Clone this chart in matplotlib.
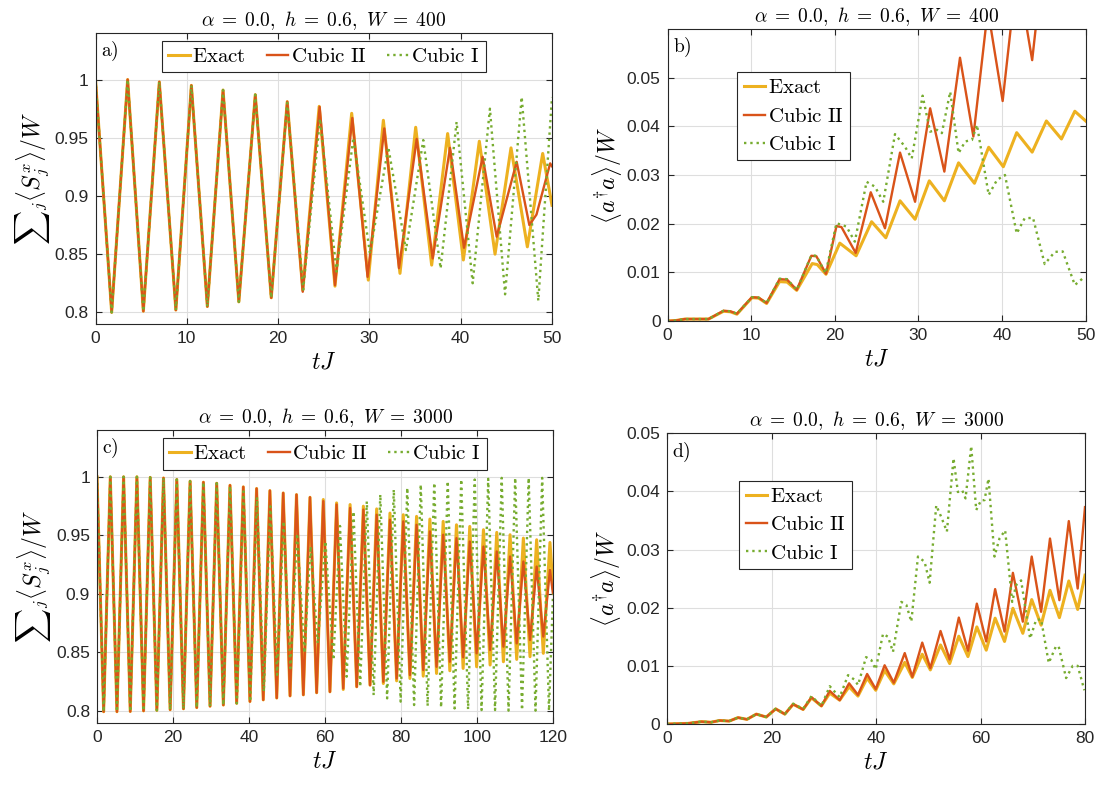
import numpy as np
import matplotlib
matplotlib.use("Agg")
import matplotlib.pyplot as plt

# ---- panel a: W = 400, sum_j <S_j^x>/W (extrema) ----
A_EXACT_T = [0, 1.77, 3.52, 5.24, 6.99, 8.8, 10.5, 12.25, 13.97, 15.7, 17.5, 19.25, 21.0, 22.7,
             24.5, 26.23, 28.06, 29.88, 31.53, 33.35, 35.07, 36.82, 38.57, 40.29, 42.04, 43.76,
             45.51, 47.3, 48.98, 50.0]
A_EXACT_Y = [1.0, 0.800, 1.0, 0.801, 0.998, 0.802, 0.995, 0.805, 0.991, 0.809, 0.987, 0.8125, 0.981, 0.819,
             0.977, 0.8225, 0.971, 0.8277, 0.965, 0.8335, 0.959, 0.8406, 0.9536, 0.845, 0.947, 0.850,
             0.9413, 0.8563, 0.9365, 0.892]
A_CUB2_T = [0, 1.77, 3.52, 5.24, 6.99, 8.8, 10.5, 12.25, 13.97, 15.7, 17.5, 19.25, 21.0, 22.7,
            24.55, 26.23, 28.13, 29.8, 31.63, 33.24, 35.18, 36.93, 38.83, 40.36, 42.4, 43.94,
            46.13, 47.52, 48.3, 49.8, 50.0]
A_CUB2_Y = [1.0, 0.800, 1.0, 0.801, 0.998, 0.802, 0.995, 0.805, 0.991, 0.809, 0.987, 0.8125, 0.981, 0.8177,
            0.9765, 0.8234, 0.967, 0.8305, 0.958, 0.838, 0.949, 0.8463, 0.9413, 0.8555, 0.9336, 0.865,
            0.9293, 0.875, 0.884, 0.928, 0.9255]
A_CUB1_T = [0, 1.77, 3.52, 5.24, 6.99, 8.8, 10.5, 12.25, 13.97, 15.7, 17.5, 19.25, 21.0, 22.75,
            24.59, 26.4, 28.24, 30.06, 32.07, 34.0, 35.9, 37.8, 39.55, 41.31, 43.2, 44.86, 46.68,
            48.5, 50.0]
A_CUB1_Y = [1.0, 0.800, 1.0, 0.801, 0.998, 0.802, 0.995, 0.805, 0.991, 0.809, 0.987, 0.8125, 0.980, 0.8195,
            0.9665, 0.835, 0.950, 0.8506, 0.942, 0.8535, 0.948, 0.8378, 0.9636, 0.825, 0.975, 0.8155, 0.985,
            0.810, 0.985]

# ---- panel b: W = 400, <a^dag a>/W ----
B_EXACT_T = [0, 1.0, 2.1, 4.9, 6.7, 7.5, 8.3, 10.1, 10.9, 11.85, 13.4, 14.3, 15.45, 17.3, 17.9, 18.95,
             20.6, 22.55, 24.4, 26.1, 27.8, 29.6, 31.3, 33.1, 34.8, 36.7, 38.4, 40.15, 41.75, 43.6,
             45.3, 47.1, 48.7, 50.0]
B_EXACT_Y = [0, 0.0001, 0.0004, 0.0004, 0.0020, 0.0019, 0.0014, 0.0048, 0.0047, 0.0036, 0.0081, 0.0080,
             0.0063, 0.0118, 0.0116, 0.0096, 0.0160, 0.0134, 0.0204, 0.0171, 0.0247, 0.0209, 0.0288,
             0.0247, 0.0325, 0.0283, 0.0357, 0.0317, 0.0387, 0.0347, 0.0411, 0.0374, 0.0431, 0.0411]
B_CUB2_T = [0, 1.0, 2.1, 4.9, 6.7, 7.5, 8.3, 10.1, 10.9, 11.85, 13.4, 14.3, 15.45, 17.2, 17.8, 18.95,
            20.2, 20.8, 22.5, 24.3, 26.0, 27.8, 29.6, 31.4, 33.1, 34.97, 36.57, 38.3, 40.07, 41.8,
            43.6, 45.3, 47.1, 48.8, 50.0]
B_CUB2_Y = [0, 0.0001, 0.0004, 0.0004, 0.0021, 0.0020, 0.0015, 0.0049, 0.0048, 0.0037, 0.0086, 0.0085,
            0.0064, 0.0134, 0.0133, 0.0097, 0.0195, 0.0193, 0.0140, 0.02645, 0.01905, 0.0346, 0.0245,
            0.0437, 0.0307, 0.0541, 0.0379, 0.064, 0.0452, 0.072, 0.0536, 0.080, 0.064, 0.088, 0.078]
B_CUB1_T = [0, 1.0, 2.1, 4.9, 6.7, 7.5, 8.3, 10.1, 10.9, 11.85, 13.4, 14.3, 15.45, 17.2, 17.8, 18.9,
            20.2, 21.4, 22.4, 23.8, 24.8, 25.8, 27.2, 28.4, 29.2, 30.5, 31.4, 32.2, 32.8, 33.8, 34.8,
            35.6, 36.4, 37.0, 38.4, 39.4, 40.35, 41.75, 42.7, 43.7, 45.1, 46.3, 47.25, 48.7, 49.9]
B_CUB1_Y = [0, 0.0001, 0.0004, 0.0004, 0.0021, 0.0020, 0.0015, 0.0049, 0.0048, 0.0037, 0.0087, 0.0086,
            0.0064, 0.0135, 0.0134, 0.0098, 0.0201, 0.0194, 0.0163, 0.0286, 0.0276, 0.0245, 0.0384,
            0.0358, 0.0334, 0.0463, 0.0389, 0.0393, 0.0386, 0.0471, 0.0345, 0.0369, 0.0372, 0.0403,
            0.0259, 0.0290, 0.0300, 0.0180, 0.0211, 0.0212, 0.0117, 0.0142, 0.0143, 0.0074, 0.0091]

# ---- panel c: W = 3000, sum_j <S_j^x>/W (peaks and troughs) ----
C_PEAK_T = [0, 3.5, 7.0, 10.5, 14.0, 17.5, 21.0, 24.5, 28.0, 31.5, 35.0, 38.5, 42.0, 45.5, 49.0, 52.5,
            56.05, 59.55, 63.05, 66.6, 70.1, 73.6, 77.1, 80.6, 84.1, 87.6, 91.1, 94.6, 98.1, 101.7,
            105.2, 108.7, 112.2, 115.7, 119.2]
C_TROUGH_T = [1.75, 5.25, 8.75, 12.25, 15.75, 19.25, 22.75, 26.25, 29.75, 33.25, 36.75, 40.25, 43.75,
              47.3, 50.8, 54.3, 57.8, 61.3, 64.8, 68.35, 71.85, 75.35, 78.85, 82.35, 85.85, 89.35,
              92.85, 96.35, 99.9, 103.45, 106.95, 110.45, 113.95, 117.45]
C_EXACT_PEAK = [1.0, 1.0, 1.0, 1.0, 0.9995, 0.999, 0.9977, 0.9963, 0.9954, 0.9945, 0.9928, 0.9914, 0.99,
                0.9882, 0.9862, 0.9848, 0.9825, 0.9806, 0.9777, 0.9763, 0.9749, 0.9726, 0.969, 0.9676,
                0.9662, 0.9639, 0.9619, 0.959, 0.9576, 0.9548, 0.9525, 0.9505, 0.9476, 0.9462, 0.9439]
C_EXACT_TROUGH = [0.7993, 0.7993, 0.7995, 0.80, 0.8005, 0.801, 0.8018, 0.8028, 0.804, 0.805, 0.8065,
                  0.808, 0.8094, 0.811, 0.8128, 0.8137, 0.8155, 0.8163, 0.8183, 0.8206, 0.822, 0.8234,
                  0.8257, 0.8277, 0.8297, 0.832, 0.8343, 0.8363, 0.8377, 0.8392, 0.842, 0.844, 0.8463,
                  0.8492]
C_CUB2_PEAK = [1.0, 1.0, 1.0, 1.0, 0.9995, 0.999, 0.9977, 0.9963, 0.9954, 0.9945, 0.9928, 0.9914, 0.99,
               0.9882, 0.9862, 0.9848, 0.9825, 0.9792, 0.9763, 0.9734, 0.972, 0.9676, 0.9633, 0.9619,
               0.959, 0.9533, 0.9505, 0.9476, 0.9447, 0.9404, 0.9362, 0.9319, 0.9276, 0.9233, 0.9204]
C_CUB2_TROUGH = [0.7993, 0.7993, 0.7995, 0.80, 0.8005, 0.801, 0.8018, 0.8028, 0.804, 0.805, 0.8065,
                 0.808, 0.8094, 0.811, 0.8128, 0.8137, 0.8155, 0.8163, 0.8192, 0.8206, 0.822, 0.8249,
                 0.8277, 0.8306, 0.8349, 0.8377, 0.842, 0.8458, 0.8492, 0.852, 0.8549, 0.8577, 0.8606,
                 0.8635]
C_END_T = 120.0
C_EXACT_END = 0.905
C_CUB2_END = 0.90
C_CUB1_PEAK_T = [0, 3.5, 7.0, 10.5, 14.0, 17.5, 21.0, 24.5, 28.0, 31.5, 35.0, 38.55, 42.1, 45.6, 49.1,
                 52.65, 56.2, 60.1, 63.95, 67.5, 71.0, 74.55, 78.1, 81.65, 85.2, 88.75, 92.3, 95.85,
                 99.4, 102.95, 106.5, 110.05, 113.6, 117.15]
C_CUB1_PEAK = [1.0, 1.0, 1.0, 1.0, 0.9995, 0.999, 0.9977, 0.9963, 0.9954, 0.9945, 0.992, 0.9876, 0.9825,
               0.9748, 0.962, 0.9515, 0.9406, 0.9449, 0.958, 0.9704, 0.979, 0.9849, 0.9891, 0.9906,
               0.9934, 0.9949, 0.9963, 0.9977, 0.9977, 0.9983, 0.9991, 0.9991, 0.9991, 0.9991]
C_CUB1_TROUGH_T = [1.75, 5.25, 8.75, 12.25, 15.75, 19.25, 22.75, 26.25, 29.75, 33.25, 36.8, 40.3, 43.9,
                   47.4, 50.9, 54.6, 58.1, 62.2, 65.7, 69.25, 72.8, 76.35, 79.9, 83.45, 87.0, 90.55,
                   94.1, 97.65, 101.2, 104.75, 108.3, 111.85, 115.4, 118.95]
C_CUB1_TROUGH = [0.7993, 0.7993, 0.7995, 0.80, 0.8005, 0.801, 0.8018, 0.8028, 0.804, 0.805, 0.8065,
                 0.808, 0.8165, 0.8308, 0.8365, 0.8494, 0.8579, 0.8435, 0.8292, 0.8206, 0.8135, 0.8107,
                 0.8079, 0.805, 0.8042, 0.803, 0.8021, 0.8013, 0.8007, 0.8007, 0.8002, 0.8007, 0.8002,
                 0.8002]
C_CUB1_END = 0.90

# ---- panel d: W = 3000, <a^dag a>/W ----
D_T = [0, 4.0, 6.6, 8.4, 10.1, 11.9, 13.6, 15.3, 17.1, 19.0, 20.8, 22.55, 24.15, 26.05, 27.65, 29.55,
       31.15, 33.05, 34.85, 36.55, 38.3, 39.95, 41.65, 43.4, 45.5, 46.95, 48.85, 50.4, 52.35, 54.1,
       55.85, 57.6, 59.3, 61.1, 62.8, 64.6, 66.2, 68.1, 69.8, 71.6, 73.3, 75.1, 76.9, 78.6, 80.0]
D_EXACT_Y = [0, 0.0001, 0.0004, 0.0003, 0.0006, 0.0005, 0.0011, 0.0008, 0.0017, 0.0012, 0.0026, 0.0017,
             0.0034, 0.0025, 0.0045, 0.0031, 0.0053, 0.0041, 0.0064, 0.0048, 0.0079, 0.0058, 0.0092,
             0.0069, 0.0106, 0.0080, 0.0120, 0.0093, 0.0136, 0.0104, 0.0151, 0.0116, 0.0167, 0.0127,
             0.0182, 0.0142, 0.0199, 0.0156, 0.0214, 0.0170, 0.0230, 0.0183, 0.0246, 0.0197, 0.0256]
D_CUB2_Y = [0, 0.0001, 0.0004, 0.0003, 0.0006, 0.0005, 0.0011, 0.0008, 0.0017, 0.0012, 0.0026, 0.0017,
            0.0034, 0.0025, 0.0046, 0.0031, 0.0057, 0.0041, 0.0070, 0.0050, 0.0086, 0.0060, 0.0101,
            0.0071, 0.0122, 0.0081, 0.0140, 0.0096, 0.0160, 0.0111, 0.0183, 0.0126, 0.0207, 0.0142,
            0.0232, 0.0159, 0.0260, 0.0176, 0.0288, 0.0193, 0.0319, 0.0213, 0.0349, 0.0233, 0.0373]
D_CUB1_T = [0, 4.0, 6.6, 8.4, 10.1, 11.9, 13.6, 15.3, 17.1, 19.0, 20.8, 22.55, 24.15, 26.05, 27.65,
            29.55, 31.15, 33.05, 34.65, 35.9, 36.56, 38.1, 39.1, 39.94, 41.34, 42.3, 43.25, 44.84, 45.8,
            46.76, 48.03, 49.3, 50.26, 51.53, 52.49, 53.57, 54.84, 55.67, 56.5, 57.14, 58.22, 59.18,
            60.13, 60.77, 61.53, 62.68, 63.63, 64.72, 66.06, 66.82, 67.77, 69.5, 70.64, 71.6, 73.06,
            74.46, 74.97, 76.38, 77.65, 78.6, 79.88]
D_CUB1_Y = [0, 0.0001, 0.0004, 0.0003, 0.0006, 0.0005, 0.0011, 0.0008, 0.0017, 0.0012, 0.0026, 0.0017,
            0.0035, 0.0026, 0.0048, 0.0031, 0.0065, 0.0046, 0.0084, 0.0076, 0.0067, 0.0115, 0.0110,
            0.0094, 0.0155, 0.0150, 0.0124, 0.0210, 0.0205, 0.0176, 0.0288, 0.0279, 0.0243, 0.0376,
            0.0356, 0.0331, 0.0457, 0.0399, 0.0402, 0.0388, 0.0478, 0.0368, 0.0385, 0.0385, 0.0422,
            0.0288, 0.0319, 0.0333, 0.0210, 0.0239, 0.0247, 0.0147, 0.0179, 0.0180, 0.0105, 0.0134,
            0.0133, 0.0079, 0.0100, 0.0100, 0.0058]

LABELS = [r"$\mathrm{Exact}$", r"$\mathrm{Cubic\ II}$", r"$\mathrm{Cubic\ I}$"]
TITLES = [r"$\alpha\;=\;0.0,\ h\;=\;0.6,\ W\;=\;400$", r"$\alpha\;=\;0.0,\ h\;=\;0.6,\ W\;=\;3000$"]
SX_TICKS = [0.8, 0.85, 0.9, 0.95, 1.0]
SX_TICKLABELS = ["0.8", "0.85", "0.9", "0.95", "1"]
N_TICKS = [0, 0.01, 0.02, 0.03, 0.04, 0.05]
N_TICKLABELS = ["0", "0.01", "0.02", "0.03", "0.04", "0.05"]

EXACT_C = "#EDB120"
CUB2_C = "#D95319"
CUB1_C = "#77AC30"
AX_C = "#262626"
FIG_W, FIG_H = 1102, 787


def merge(t1, y1, t2, y2, t_end, y_end):
    t = np.concatenate([t1, t2, [t_end]])
    y = np.concatenate([y1, y2, [y_end]])
    order = np.argsort(t)
    return t[order], y[order]


def add_axes_px(fig, left, top, right, bottom):
    return fig.add_axes([left / FIG_W, 1 - bottom / FIG_H, (right - left) / FIG_W, (bottom - top) / FIG_H])


def style(ax, xlim, xticks, ylim, yticks, yticklabels, title, tag, ylabel):
    ax.set_xlim(*xlim)
    ax.set_ylim(*ylim)
    ax.set_xticks(xticks)
    ax.set_xticklabels([str(v) for v in xticks])
    ax.set_yticks(yticks)
    ax.set_yticklabels(yticklabels)
    ax.grid(True, color="#dedede", linewidth=0.8)
    ax.set_axisbelow(True)
    ax.tick_params(direction="in", length=4, width=0.8, top=True, right=True,
                   labelsize=12.5, colors=AX_C, pad=5)
    for s in ax.spines.values():
        s.set_color(AX_C)
        s.set_linewidth(0.8)
    ax.set_title(title, fontsize=14, pad=5, color="black")
    ax.set_xlabel(r"$tJ$", fontsize=17, labelpad=4)
    ax.set_ylabel(ylabel, fontsize=17, labelpad=2)
    ax.text(0.012, 0.975, tag, transform=ax.transAxes, ha="left", va="top", fontsize=14)


def draw(ax, curves):
    lines = []
    lines += ax.plot(*curves[0], color=EXACT_C, lw=2.2, label=LABELS[0])
    lines += ax.plot(*curves[1], color=CUB2_C, lw=1.7, label=LABELS[1])
    lines += ax.plot(*curves[2], color=CUB1_C, lw=1.7, linestyle=":", label=LABELS[2])
    return lines


def legend(ax, lines, ncol, loc, anchor):
    leg = ax.legend(lines, LABELS, ncol=ncol, loc=loc, bbox_to_anchor=anchor, frameon=True,
                    fancybox=False, edgecolor=AX_C, framealpha=1, fontsize=15, handlelength=1.05,
                    handletextpad=0.1, columnspacing=1.0, borderpad=0.3, labelspacing=0.45,
                    borderaxespad=0)
    leg.get_frame().set_linewidth(0.8)


def main():
    plt.rcParams.update({"font.family": ["Liberation Sans", "DejaVu Sans"],
                         "mathtext.fontset": "cm"})
    fig = plt.figure(figsize=(FIG_W / 100, FIG_H / 100), dpi=100)
    sx_label = r"${\sum}_j \langle S_j^x \rangle / W$"
    n_label = r"$\langle a^{\dagger} a \rangle / W$"

    ax = add_axes_px(fig, 95.5, 33, 552, 324)
    lines = draw(ax, [(A_EXACT_T, A_EXACT_Y), (A_CUB2_T, A_CUB2_Y), (A_CUB1_T, A_CUB1_Y)])
    style(ax, (0, 50), [0, 10, 20, 30, 40, 50], (0.79, 1.04), SX_TICKS, SX_TICKLABELS,
          TITLES[0], r"$\mathrm{a)}$", sx_label)
    legend(ax, lines, 3, "upper center", (0.5, 0.973))

    ax = add_axes_px(fig, 667.5, 29, 1085.7, 321)
    lines = draw(ax, [(B_EXACT_T, B_EXACT_Y), (B_CUB2_T, B_CUB2_Y), (B_CUB1_T, B_CUB1_Y)])
    style(ax, (0, 50), [0, 10, 20, 30, 40, 50], (0, 0.06), N_TICKS, N_TICKLABELS,
          TITLES[0], r"$\mathrm{b)}$", n_label)
    legend(ax, lines, 1, "upper left", (0.167, 0.852))

    ax = add_axes_px(fig, 97, 430, 553, 722.6)
    ex = merge(C_PEAK_T, C_EXACT_PEAK, C_TROUGH_T, C_EXACT_TROUGH, C_END_T, C_EXACT_END)
    c2 = merge(C_PEAK_T, C_CUB2_PEAK, C_TROUGH_T, C_CUB2_TROUGH, C_END_T, C_CUB2_END)
    c1 = merge(C_CUB1_PEAK_T, C_CUB1_PEAK, C_CUB1_TROUGH_T, C_CUB1_TROUGH, C_END_T, C_CUB1_END)
    lines = draw(ax, [ex, c2, c1])
    style(ax, (0, 120), [0, 20, 40, 60, 80, 100, 120], (0.79, 1.04), SX_TICKS, SX_TICKLABELS,
          TITLES[1], r"$\mathrm{c)}$", sx_label)
    legend(ax, lines, 3, "upper center", (0.5, 0.972))

    ax = add_axes_px(fig, 667, 433.3, 1085, 724)
    lines = draw(ax, [(D_T, D_EXACT_Y), (D_T, D_CUB2_Y), (D_CUB1_T, D_CUB1_Y)])
    style(ax, (0, 80), [0, 20, 40, 60, 80], (0, 0.05), N_TICKS, N_TICKLABELS,
          TITLES[1], r"$\mathrm{d)}$", n_label)
    legend(ax, lines, 1, "upper left", (0.173, 0.837))

    fig.savefig("out.png", dpi=100, facecolor="white")


if __name__ == "__main__":
    main()
